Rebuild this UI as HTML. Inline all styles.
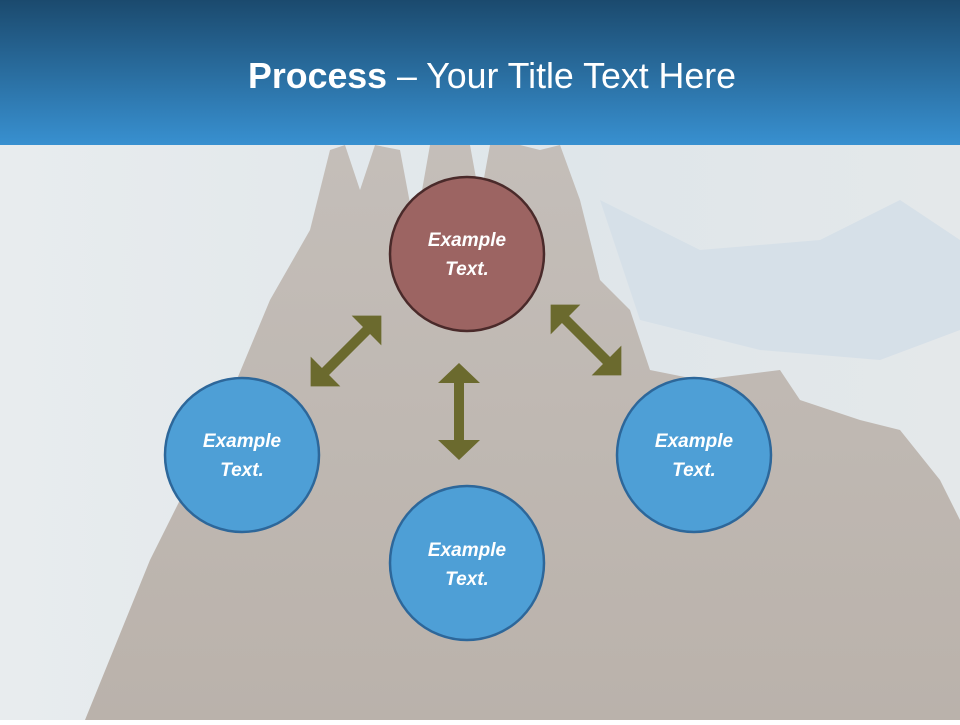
<!DOCTYPE html>
<html><head><style>
body{margin:0;width:960px;height:720px;overflow:hidden;font-family:"Liberation Sans",sans-serif}
</style></head><body>
<svg width="960" height="720" viewBox="0 0 960 720" xmlns="http://www.w3.org/2000/svg">
<defs>
<linearGradient id="hd" x1="0" y1="0" x2="0" y2="1"><stop offset="0" stop-color="#1b4a6e"/><stop offset="1" stop-color="#3890d0"/></linearGradient>
<linearGradient id="sky" x1="0" y1="0" x2="1" y2="0"><stop offset="0" stop-color="#e8ecee"/><stop offset="0.6" stop-color="#dfe6ea"/><stop offset="1" stop-color="#e4e8ea"/></linearGradient>
<linearGradient id="bld" x1="0" y1="0" x2="0" y2="1"><stop offset="0" stop-color="#c4beb9"/><stop offset="1" stop-color="#bab2ab"/></linearGradient>
</defs>
<rect width="960" height="720" fill="url(#sky)"/>
<path d="M600 200 L700 250 L820 240 L900 200 L960 240 L960 330 L880 360 L760 350 L640 320 Z" fill="#d6e0e8"/>
<path d="M85 720 L150 560 L220 420 L270 300 L310 230 L330 150 L345 145 L360 190 L375 145 L400 150 L415 230 L430 145 L470 145 L480 200 L490 145 L520 145 L540 150 L560 145 L580 200 L600 280 L630 310 L650 370 L700 380 L780 370 L800 400 L860 420 L900 430 L940 480 L960 520 L960 720 Z" fill="url(#bld)"/>
<rect width="960" height="145" fill="url(#hd)"/>
<text x="492" y="88" text-anchor="middle" fill="#fff" font-size="36" textLength="488" lengthAdjust="spacingAndGlyphs"><tspan font-weight="bold">Process</tspan> – Your Title Text Here</text>
<g fill="#6b6a2e">
<polygon points="454,383 438,383 459,363 480,383 464,383 464,440 480,440 459,460 438,440 454,440"/>
<g transform="translate(346,351) rotate(-45)"><polygon points="-29,-5 -29,-21 -50,0 -29,21 -29,5 29,5 29,21 50,0 29,-21 29,-5"/></g>
<g transform="translate(586,340) rotate(45)"><polygon points="-29,-5 -29,-21 -50,0 -29,21 -29,5 29,5 29,21 50,0 29,-21 29,-5"/></g>
</g>
<g stroke-width="2.5" font-size="19" font-weight="bold" font-style="italic" fill="#fff" text-anchor="middle">
<circle cx="467" cy="254" r="77" fill="#9c6462" stroke="#4a2a2a"/>
<circle cx="242" cy="455" r="77" fill="#4e9fd6" stroke="#2d679a"/>
<circle cx="694" cy="455" r="77" fill="#4e9fd6" stroke="#2d679a"/>
<circle cx="467" cy="563" r="77" fill="#4e9fd6" stroke="#2d679a"/>
<g stroke="none">
<text x="467" y="246">Example</text><text x="467" y="275">Text.</text>
<text x="242" y="447">Example</text><text x="242" y="476">Text.</text>
<text x="694" y="447">Example</text><text x="694" y="476">Text.</text>
<text x="467" y="556">Example</text><text x="467" y="585">Text.</text>
</g></g>
</svg>
</body></html>
